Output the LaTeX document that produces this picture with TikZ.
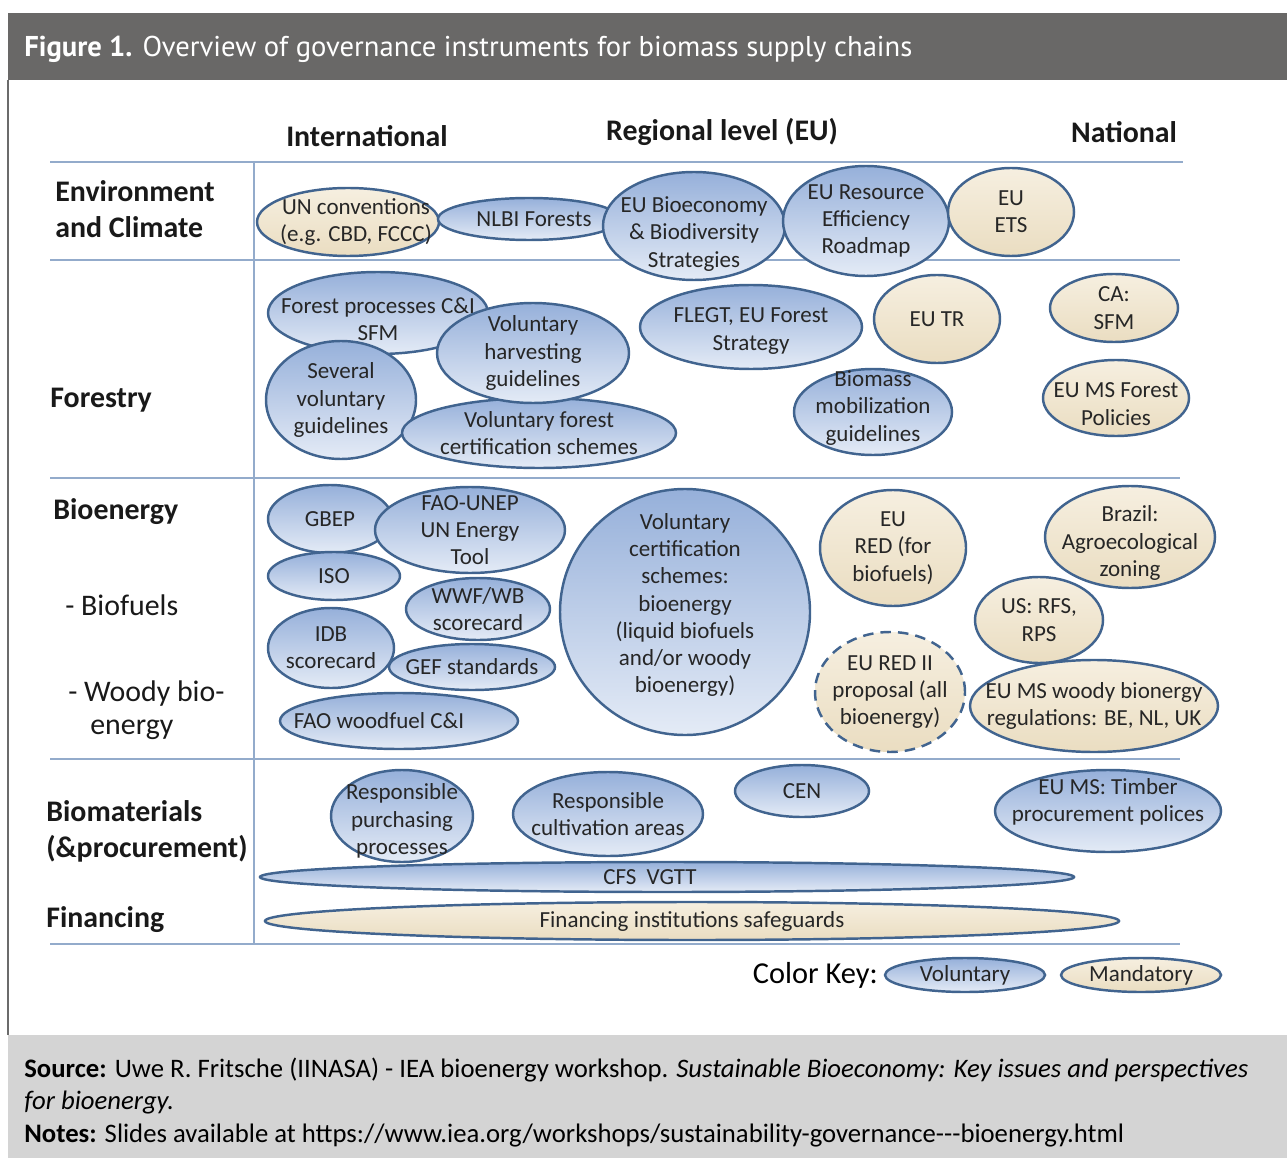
\documentclass[tikz,border=0pt]{standalone}
\usepackage{fontspec}
\setmainfont{Carlito}
\newfontfamily\headfont{PT Sans}
\usepackage{tikz}
\usetikzlibrary{shapes.geometric}

\definecolor{edgeblue}{HTML}{41648F}
\definecolor{voltop}{HTML}{96B0DA}
\definecolor{volbot}{HTML}{E4EBF6}
\definecolor{mantop}{HTML}{F6EFE0}
\definecolor{manbot}{HTML}{EADDC1}
\definecolor{gridline}{HTML}{93ABCB}
\definecolor{headgray}{HTML}{696867}
\definecolor{footgray}{HTML}{D4D4D4}
\definecolor{framegray}{HTML}{6B6B6B}

% one pixel of the layout grid
\newdimen\pxu \pxu=0.02cm

% instrument: [text opts]{name}{style}{centre}{width}{height}{text}
\newcommand{\instr}[7][]{%
    \node[#3, minimum width=#5\pxu, minimum height=#6\pxu] (#2) at (#4) {};
    \node[itext, #1] (#2-t) at (#2.center) {#7};
}

\begin{document}
\begin{tikzpicture}[x=0.02cm, y=-0.02cm]
                        \tikzset{
                            inst/.style={
                                    ellipse, draw=edgeblue, line width=1.4pt, inner sep=0pt
                                },
                            vol/.style={inst, top color=voltop, bottom color=volbot},
                            man/.style={inst, top color=mantop, bottom color=manbot},
                            itext/.style={
                                    align=center, inner sep=0pt, text=black!85,
                                    font=\fontsize{13.1}{15.5}\selectfont
                                },
                            colhead/.style={
                                    font=\fontsize{17}{20}\selectfont\bfseries, text=black!90
                                },
                            rowlab/.style={
                                    anchor=west, align=left, inner sep=0pt, text=black!90,
                                    font=\fontsize{17}{20.5}\selectfont\bfseries
                                },
                            sublab/.style={
                                    anchor=west, inner sep=0pt, text=black!90,
                                    font=\fontsize{17}{20.5}\selectfont
                                },
                            grid/.style={gridline, line width=1.2pt},
                            foot/.style={
                                    anchor=base west, inner sep=0pt,
                                    font=\fontsize{15.2}{18}\selectfont
                                }
                        }
                        \useasboundingbox (0,0) rectangle (1287,1158);

                        % --- frame, title bar and footer ---
                        \fill[headgray] (8,13) rectangle (1287,80);
                        \fill[footgray] (8,1035) rectangle (1287,1158);
                        \draw[framegray, line width=1.2pt] (8,80) -- (8,1035);
                        \node[anchor=base west, inner sep=0pt, text=white,
                              font=\headfont\fontsize{16.3}{19}\selectfont] (title) at (24,57)
                            {\textbf{Figure 1.} Overview of governance instruments for biomass supply chains};

                        % --- table grid ---
                        \draw[grid] (50,162) -- (1183,162);
                        \draw[grid] (50,260) -- (1180,260);
                        \draw[grid] (50,478) -- (1180,478);
                        \draw[grid] (50,759) -- (1180,759);
                        \draw[grid] (50,944) -- (1180,944);
                        \draw[grid] (254,162) -- (254,944);

                        \node[colhead] (intl) at (367,136) {International};
                        \node[colhead] (regional) at (722,132) {Regional level (EU)};
                        \node[colhead] (national) at (1124,132) {National};

                        \node[rowlab] (envlab) at (55,209) {Environment\\and Climate};
                        \node[rowlab] (forlab) at (50,400) {Forestry};
                        \node[rowlab] (biolab) at (53,512) {Bioenergy};
                        \node[sublab] (fuellab) at (65,605) {- Biofuels};
                        \node[sublab] (woodlab) at (68,694) {- Woody bio-};
                        \node[sublab] (woodlab2) at (90,730) {energy};
                        \node[rowlab] (matlab) at (46,831) {Biomaterials\\(\&procurement)};
                        \node[rowlab] (finlab) at (46,920) {Financing};

                        % --- environment and climate ---
                        \instr[xshift=8\pxu]{unconv}{man}{348,222}{182}{68}{UN conventions\\(e.g. CBD, FCCC)}
                        \instr[xshift=5\pxu]{nlbi}{vol}{529,219}{182}{42}{NLBI Forests}
                        \instr[yshift=-8\pxu]{eubioeco}{vol}{694,226}{182}{108}{EU Bioeconomy\\\& Biodiversity\\Strategies}
                        \instr{euresource}{vol}{866,221}{166}{110}{EU Resource\\Efficiency\\Roadmap}
                        \instr{euets}{man}{1011,212}{126}{88}{EU\\ETS}

                        % --- forestry ---
                        \instr[yshift=-6\pxu]{forproc}{vol}{378,313}{220}{82}{Forest processes C\&I\\SFM}
                        \instr{several}{vol}{341,400}{150}{118}{Several\\voluntary\\guidelines}
                        \instr{forcert}{vol}{539,433}{274}{70}{Voluntary forest\\certification schemes}
                        \instr{harvest}{vol}{533,353}{192}{100}{Voluntary\\harvesting\\guidelines}
                        \instr[yshift=-4\pxu]{flegt}{vol}{751,327}{222}{84}{FLEGT, EU Forest\\Strategy}
                        \instr{eutr}{man}{937,319}{126}{88}{EU TR}
                        \instr[yshift=4\pxu]{biomob}{vol}{873,412}{158}{86}{Biomass\\mobilization\\guidelines}
                        \instr{casfm}{man}{1114,308}{128}{68}{CA:\\SFM}
                        \instr[yshift=-6\pxu]{eumsfor}{man}{1116,398}{146}{76}{EU MS Forest\\Policies}

                        % --- bioenergy ---
                        \instr{gbep}{vol}{330,519}{124}{68}{GBEP}
                        \instr{faounep}{vol}{470,530}{190}{86}{FAO-UNEP\\UN Energy\\Tool}
                        \instr{iso}{vol}{334,576}{132}{48}{ISO}
                        \instr{wwf}{vol}{478,609}{144}{62}{WWF/WB\\scorecard}
                        \instr{idb}{vol}{331,648}{126}{80}{IDB\\scorecard}
                        \instr{gef}{vol}{472,667}{166}{46}{GEF standards}
                        \instr[xshift=-20\pxu]{faowood}{vol}{399,721}{238}{56}{FAO woodfuel C\&I}
                        \instr[yshift=7\pxu]{volcert}{vol}{685,612}{250}{246}{Voluntary\\certification\\schemes:\\bioenergy\\(liquid biofuels\\and/or woody\\bioenergy)}
                        \instr{eured}{man}{893,548}{146}{116}{EU\\RED (for\\biofuels)}
                        \instr[yshift=-6\pxu]{brazil}{man}{1130,537}{170}{102}{Brazil:\\Agroecological\\zoning}
                        \instr{usrfs}{man}{1039,620}{128}{86}{US: RFS,\\RPS}
                        \instr{euredii}{man, dashed, dash pattern=on 6pt off 4pt}{890,692}{150}{120}{EU RED II\\proposal (all\\bioenergy)}
                        \instr{eumswood}{man}{1094,706}{248}{92}{EU MS woody bionergy\\regulations: BE, NL, UK}

                        % --- biomaterials and financing ---
                        \instr[yshift=-5\pxu]{resppurch}{vol}{402,816}{142}{92}{Responsible\\purchasing\\processes}
                        \instr{respcult}{vol}{608,814}{190}{84}{Responsible\\cultivation areas}
                        \instr{cen}{vol}{802,791}{134}{52}{CEN}
                        \instr[yshift=9\pxu]{eumstimber}{vol}{1108,811}{226}{82}{EU MS: Timber\\procurement polices}
                        \instr[xshift=-17\pxu]{cfs}{vol}{667,877}{814}{30}{CFS\ \ VGTT}
                        \instr{financing}{man}{692,921}{854}{38}{Financing institutions safeguards}

                        % --- colour key ---
                        \node[anchor=east, inner sep=0pt, font=\fontsize{17.3}{20}\selectfont] (keylab) at (878,975) {Color Key:};
                        \instr{keyvol}{vol}{965,975}{160}{34}{Voluntary}
                        \instr{keyman}{man}{1141,975}{160}{34}{Mandatory}

                        % --- footer text ---
                        \node[foot] (source) at (24,1077)
                            {\textbf{Source:} Uwe R. Fritsche (IINASA) - IEA bioenergy workshop. \textit{Sustainable Bioeconomy: Key issues and perspectives}};
                        \node[foot] (source2) at (24,1109) {\textit{for bioenergy.}};
                        \node[foot] (notes) at (24,1142)
                            {\textbf{Notes:} Slides available at https://www.iea.org/workshops/sustainability-governance-{}-{}-bioenergy.html};
                    \end{tikzpicture}
\end{document}
